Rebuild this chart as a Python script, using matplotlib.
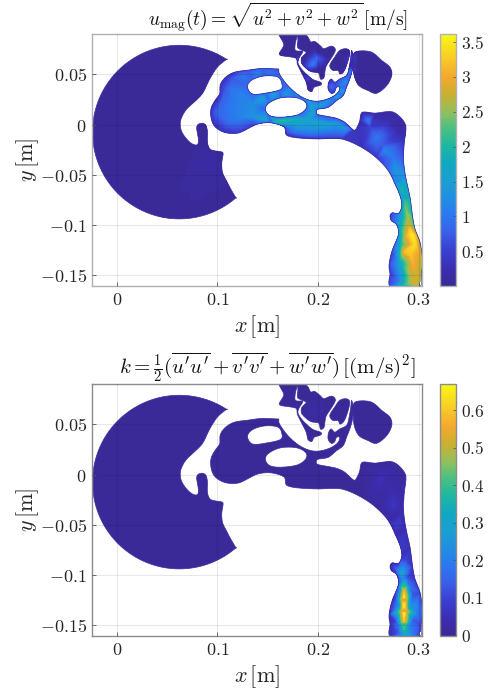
import numpy as np
import matplotlib
matplotlib.use("Agg")
import matplotlib.pyplot as plt
from matplotlib.colors import LinearSegmentedColormap, Normalize
from matplotlib.cm import ScalarMappable
from matplotlib.path import Path
from matplotlib.patches import PathPatch

plt.rcParams['mathtext.fontset'] = 'cm'
plt.rcParams['font.family'] = ['DejaVu Serif']

# ---- geometry of the cut plane (mm) ----
disc_center = (62.0, -7.5)
disc_radius = 86.3
disc_arc_deg = (57.0, 310.8)
mouth_x = [118.3,113.3,109,105,104.3,105.6,103.3,93.3,90,90,88.6,85,80.6,79.3,81,80,75,69.3,64,63.3,68.3,75,85,91.6,100,109]
mouth_y = [-72.7,-64.3,-56,-47.7,-37.7,-29.3,-27,-25,-17.7,-7.7,-1,1.3,0,-4.3,-14.3,-20,-19.3,-14.3,-6,4,14,20.7,30.7,44,57.3,64.7]

main_x = [93.3,94,98.3,102.3,102.6,107.3,116.6,130,143.3,158.3,161,161.6,170,181.6,193.3,203.3,213.3,220,221.6,218.3,216.6,213.3,210,210.6,213.3,216.6,221.6,228.3,230.6,232.6,233.3,235,234.3,231.6,228.3,225,218.3,210,200,198.3,200.6,216.6,226.6,235,238.3,241.6,244,256.6,271.6,280,287.3,286,285,287.3,291.6,294,296.6,301.6,304,302.6,300.6,272.6,271.6,270.6,274,280,278,273.3,271.6,274,280,283.3,281.6,276.6,270,258.3,243.3,223.3,201.6,180,168.3,166.6,153.3,138.3,121.6,106.6,96.6]
main_y = [9,17.3,25,30.7,39,46.3,52,54,55.7,55.3,54.7,50.3,38.7,28.7,23.7,23.7,27,32,37,37,32.7,31,35.3,42,45.3,42,45.3,48.7,55.3,67,73.7,67,55.3,45.3,37,28.7,23.7,17,15.3,12.3,9.7,6.7,2.3,-5.3,-3.7,4,12.3,11.3,13,9,-1,-16,-34.3,-52.7,-72.7,-91,-104.3,-117.7,-136,-149.3,-161.7,-161.7,-149.3,-139.3,-124.3,-109.3,-99.3,-96,-91,-87.7,-88.3,-81,-71,-59.3,-46,-33.3,-22.7,-14.3,-14.3,-13.3,-10.3,-2.7,1.7,0,-8.3,-7.7,-1]
main_u = [.4,.3,.3,.3,.3,.3,.4,.6,.7,.7,
          .7,.8,.8,.8,.9,.9,.9,.9,.9,
          .6,.5,.4,.4,.4,.4,.5,.6,.7,.5,
          .4,.3,.4,.5,.7,.7,.8,.8,.8,.9,
          .8,.7,.6,.6,.4,.3,.15,.1,.1,.1,
          .1,.15,.3,.7,1.3,1.7,2.0,2.3,2.5,2.6,
          2.6,2.6,.7,.5,.5,.6,1.3,1.1,.6,.4,
          .6,1.1,1.4,1.3,1.1,.8,.4,.3,.4,.4,
          .3,.3,.4,.6,.5,.4,.3,.3]
main_k = [.002]*46 + [.002,.005,.005,.005,.01,.02,.03,.04,.05,.06,.07,.1,.12,.1,.1,.06,.05,.05,.05,.08,.06,.03,.02,.03,.05,.05,.04,.03,.02,.01,.004] + [.002]*10
hole1_x = [130,135,146.6,160,164,162.6,148.3,136.6,131.6]
hole1_y = [39,44.7,48.3,47.3,40.7,34.7,31.3,30,33]
hole2_x = [147.6,151.6,163.3,178.3,187.3,188.3,180,163.3,151.6]
hole2_y = [15.7,21.7,26.7,26.7,22.3,16.3,9.7,7.3,9]
lobeA_x = [161.6,178.3,177.6,177,180,185,181.6,180,184,189.3,195,202.6,202.6,196,194,190,188.3,183.3,179.3,178,166.6,161.3,166,163.3]
lobeA_y = [92,92,82,74.7,73,72.7,67,61.3,54.7,49.3,44.7,42,39.3,37,33,34.7,42,52,60.3,66,68,70.3,78.7,85.3]
lobeB_x = [180.6,189.3,192.6,196.6,202.6,206,213.3,217.3,211.6,207.6,206,202.3,200.6,192.6,184,184,188.3,180,180]
lobeB_y = [92,88,82,82.7,78,75.3,78,73.7,63.7,57,47,45.3,51.3,52.7,60.3,67,72,76,83.7]
lobeD_x = [221.6,228.3,231.6,228.3,225,221.6,220,215,211.6,216.6]
lobeD_y = [73.7,75.3,71.3,58.7,52,50.3,53.7,53.7,58.7,67]
lobeE_x = [235,240,253.3,263.3,271.6,273.3,268.3,258.3,250,240.6,236,235]
lobeE_y = [69.3,73,72,63.7,57,48.7,38.7,31,33.7,38.7,48.7,58.7]

# ---- velocity magnitude read at sample points (mm, mm, m/s) ----
u_pts_x = [100,105,108,115,125,115,125,115,125,112,135,135,148,158,165,178,190,195,193,200,140,152,166,172,145,155,168,180,190,
           175,185,195,205,215,190,180,205,218,228,172,208,218,224,227,232,
           250,258,266.6,276.6,283,286.6,290,293,296.6,296.6,293,286.6,286.6,
           252,270,280,265,275,280,
           283,287,290,292,288,296,299,292,295,290,298,283,281,285,290,296,278,276,280,275,
           195,199,190,190,181.6,213,
           85,92,100,106,60,20,222,240,255,265,170,195,210,172,
           190,205,188,172,201]
u_pts_y = [12,22,35,45,48,35,30,20,8,3,20,8,5,2.5,4,5,5,12,20,18,51,51,45,36,26,29,30,30,25,
           -7,-8,-6,-6,-7,-2,-2,0,1,-4,-3,22,28,33,42,52,
           4,-13,-26,-43,-59,-76,-93,-109,-119,-139,-153,-109,-126,
           -3,3,-8,-20,-33,-60,
           -66,-82,-100,-105,-110,-110,-125,-130,-140,-145,-150,-120,-138,-148,-158,-158,-115,-130,-155,-150,
           60,66,58,45,65.7,38,
           -28,-35,-45,-55,-7,-7,62,55,55,45,80,75,70,62,
           80,70,68,74,56]
u_pts_v = [.8,.8,.7,.7,1.0,1.0,1.1,1.05,1.15,.95,1.2,1.3,1.55,2.0,2.05,1.8,1.55,1.55,1.5,1.4,1.1,.95,1.0,1.1,1.45,1.5,1.35,1.2,1.3,
           .9,1.0,1.2,1.1,.95,1.4,1.4,1.55,1.4,1.25,1.0,1.3,1.4,1.4,1.2,1.0,
           1.0,1.0,1.15,1.3,1.75,2.1,2.6,3.5,3.4,2.9,2.7,2.6,3.2,
           .5,.25,.2,.7,1.0,1.5,
           1.9,2.3,2.8,3.3,3.0,3.3,3.0,3.2,3.0,2.6,2.8,2.0,1.5,1.7,2.4,2.8,.9,.7,1.0,.6,
           1.0,.8,.6,.5,1.0,.8,
           .12,.15,.1,.08,.02,.02,.03,.02,.02,.02,.03,.03,.03,.05,
           .03,.03,.05,.03,.1]

# ---- turbulent kinetic energy read at sample points (mm, mm, m2/s2) ----
k_pts_x = [255,262,270,275,278,283,287,283,277,290,195,282.6,
           285.5,285.5,285.5,285.5,285.5,285.5,285.5,
           283,283,283,283,288,288,288,288,
           281,281,281,291,291,291,
           277,277,294,294,296.6,298,287,280,296.6,284,288]
k_pts_y = [0,-5,-10,-30,-50,-70,-85,-98,-93,-100,60,-86,
           -108,-115,-122,-130,-138,-146,-153,
           -112,-124,-136,-148,-112,-124,-136,-148,
           -112,-130,-150,-112,-130,-150,
           -125,-145,-120,-145,-130,-138,-159,-157,-157,-104,-102]
k_pts_v = [0.02,0.05,0.03,0.06,0.08,0.08,0.1,0.3,0.12,0.1,0.03,0.12,
           0.35,0.55,0.65,0.67,0.66,0.58,0.4,
           0.38,0.48,0.5,0.38,0.38,0.48,0.5,0.38,
           0.18,0.24,0.2,0.18,0.24,0.2,
           0.08,0.08,0.11,0.13,0.23,0.2,0.3,0.12,0.15,0.22,0.12]

# ---- colours and labels ----
cmap_stops = [0.0,0.06,0.14,0.21,0.28,0.35,0.42,0.49,0.56,0.63,0.69,0.76,0.83,0.90,1.0]
cmap_colors = ['#3a2a96','#3b2cae','#3a40d2','#3a60e8','#2a78f0','#2090e0','#1aa0d0','#10a8c0','#20b8a0','#50c080',
               '#8fc060','#c8b030','#f4a830','#f8c828','#f8f812']
u_clim = (0.01, 3.615)
k_clim = (0.0, 0.67)
u_ticks = [0.5,1,1.5,2,2.5,3,3.5]
k_ticks = [0,0.1,0.2,0.3,0.4,0.5,0.6]
x_ticks = [0,0.1,0.2,0.3]
y_ticks = [-0.15,-0.1,-0.05,0,0.05]
xlim = (-0.0245,0.303)
ylim = (-0.16,0.09)
title_u = r"$u_{\mathrm{mag}}(t)=\sqrt{u^2+v^2+w^2}\,[\mathrm{m/s}]$"
title_k = r"$k=\frac{1}{2}(\overline{u'u'}+\overline{v'v'}+\overline{w'w'})\,[(\mathrm{m/s})^2]$"

cmap = LinearSegmentedColormap.from_list('cfd', list(zip(cmap_stops, cmap_colors)), N=256)

W, H = 491, 699
fig = plt.figure(figsize=(W/100, H/100), dpi=100)

theta = np.radians(np.linspace(disc_arc_deg[0], disc_arc_deg[1], 60))
disc_x = list(disc_center[0]+disc_radius*np.cos(theta)) + mouth_x
disc_y = list(disc_center[1]+disc_radius*np.sin(theta)) + mouth_y

others = [(disc_x,disc_y),(lobeA_x,lobeA_y),(lobeB_x,lobeB_y),(lobeD_x,lobeD_y),(lobeE_x,lobeE_y)]
holes = [(hole1_x,hole1_y),(hole2_x,hole2_y)]

def ring(xs, ys, reverse=False, rounds=2):
    pts = np.c_[xs, ys]/1000.0
    for _ in range(rounds):          # smooth curve through the traced vertices
        mid = 9/16*(pts+np.roll(pts,-1,axis=0)) - 1/16*(np.roll(pts,1,axis=0)+np.roll(pts,-2,axis=0))
        pts = np.c_[pts, mid].reshape(-1, 2)
    if reverse:
        pts = pts[::-1]
    return Path(np.vstack([pts, pts[:1]]), closed=True)

domain = Path.make_compound_path(ring(main_x, main_y), *[ring(*s) for s in others],
                                 *[ring(*h, reverse=True) for h in holes])

def field_panel(top, pts_x, pts_y, pts_v, main_rim, other_rim, hole_rim, clim, ticks, title, title_x, title_fs, spine):
    ax = fig.add_axes([92.3/W, 1-(top+251.5)/H, 329.3/W, 251.5/H])
    xs = [main_x]+[s[0] for s in others]+[h[0] for h in holes]+[pts_x]
    ys = [main_y]+[s[1] for s in others]+[h[1] for h in holes]+[pts_y]
    vs = [main_rim]+[[other_rim]*len(s[0]) for s in others]+[[hole_rim]*len(h[0]) for h in holes]+[pts_v]
    x = np.concatenate(xs)/1000.0
    y = np.concatenate(ys)/1000.0
    v = np.concatenate(vs)
    norm = Normalize(*clim)
    levels = np.linspace(clim[0], clim[1], 129)
    cs = ax.tricontourf(x, y, v, levels=levels, cmap=cmap, norm=norm, extend='both', antialiased=False, zorder=1)
    patch = PathPatch(domain, transform=ax.transData, fc='none', ec='none')
    ax.add_patch(patch)
    cs.set_clip_path(patch)
    ax.add_patch(PathPatch(domain, fc='none', ec=cmap(0.03), lw=0.5, zorder=1.5))
    ax.set_xlim(xlim); ax.set_ylim(ylim)
    ax.set_xticks(x_ticks); ax.set_yticks(y_ticks)
    ax.set_xticklabels([f'${t:g}$' for t in x_ticks])
    ax.set_yticklabels([f'${t:g}$' for t in y_ticks])
    ax.tick_params(direction='in', length=3, width=0.6, color='#555555', labelsize=13, labelcolor='#262626', pad=4, top=False, right=False)
    ax.grid(True, color='#000000', alpha=0.09, lw=0.8)
    ax.set_axisbelow(False)
    for sp in ax.spines.values():
        sp.set_color(spine); sp.set_linewidth(1.0)
    t = ax.set_title(title, fontsize=title_fs, pad=5, color='#111111')
    t.set_x(title_x)
    ax.set_xlabel(r'$x\,[\mathrm{m}]$', fontsize=16, labelpad=3, color='#262626')
    ax.set_ylabel(r'$y\,[\mathrm{m}]$', fontsize=16, labelpad=-1, color='#262626')

    cax = fig.add_axes([440/W, 1-(top+251.5)/H, 15.7/W, 251.5/H])
    cb = fig.colorbar(ScalarMappable(norm=norm, cmap=cmap), cax=cax, ticks=ticks)
    cb.ax.set_yticklabels([f'${t:g}$' for t in ticks])
    cb.ax.tick_params(direction='in', length=2, width=0.6, color='#555555', labelsize=12.5, labelcolor='#262626', pad=4)
    cb.outline.set_edgecolor(spine); cb.outline.set_linewidth(1.0)

field_panel(34, u_pts_x, u_pts_y, u_pts_v, main_u, 0.03, 0.8, u_clim, u_ticks, title_u, 0.565, 14, '#b0b0b0')
field_panel(384, k_pts_x, k_pts_y, k_pts_v, main_k, 0.002, 0.002, k_clim, k_ticks, title_k, 0.532, 15, '#8c8c8c')

fig.savefig('out.png', dpi=100, facecolor='white')
